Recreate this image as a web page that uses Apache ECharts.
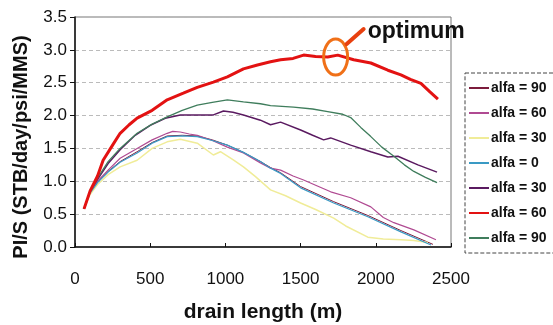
<!DOCTYPE html>
<html><head><meta charset="utf-8">
<script src="https://cdn.jsdelivr.net/npm/echarts@6/dist/echarts.min.js"></script>
<style>html,body{margin:0;padding:0;background:#fff}#c{width:553px;height:325px}</style>
</head><body><div id="c"></div>
<script>
const seriesNames = ['alfa = 90#1','alfa = 60#1','alfa = 30#1','alfa = 0','alfa = 30#2','alfa = 60#2','alfa = 90#2'];
const xTicks = [0, 500, 1000, 1500, 2000, 2500];
const yTicks = [0, 0.5, 1.0, 1.5, 2.0, 2.5, 3.0, 3.5];

const alfa90a = [[60,0.58],[100,0.83],[150,0.99],[220,1.15],[300,1.30],[413,1.45],[513,1.59],[613,1.69],[713,1.70],[813,1.69],[913,1.63],[1013,1.55],[1120,1.44],[1233,1.30],[1300,1.21],[1367,1.13],[1500,0.92],[1720,0.69],[1947,0.48],[2167,0.25],[2380,0.04]];
const alfa60a = [[60,0.58],[100,0.83],[150,1.00],[220,1.17],[300,1.35],[413,1.50],[513,1.63],[613,1.73],[650,1.76],[700,1.75],[760,1.72],[813,1.70],[913,1.62],[1013,1.52],[1120,1.43],[1233,1.28],[1300,1.20],[1367,1.17],[1450,1.08],[1520,1.02],[1600,0.94],[1700,0.84],[1833,0.75],[1967,0.61],[2050,0.45],[2120,0.37],[2253,0.26],[2400,0.11]];
const alfa30a = [[60,0.58],[100,0.80],[150,0.95],[220,1.10],[300,1.22],[413,1.32],[513,1.50],[613,1.60],[700,1.64],[813,1.58],[920,1.40],[967,1.45],[1050,1.33],[1120,1.22],[1200,1.07],[1300,0.87],[1400,0.78],[1500,0.67],[1600,0.57],[1720,0.44],[1800,0.32],[1947,0.15],[2050,0.12],[2167,0.11],[2253,0.10],[2347,0.07]];
const alfa0 = [[60,0.58],[100,0.82],[150,0.98],[220,1.14],[300,1.29],[413,1.43],[513,1.58],[613,1.68],[713,1.69],[813,1.68],[913,1.62],[1013,1.55],[1120,1.44],[1233,1.30],[1300,1.20],[1367,1.12],[1500,0.90],[1720,0.67],[1947,0.46],[2167,0.23],[2367,0.03]];
const alfa30b = [[60,0.58],[100,0.85],[150,1.03],[220,1.27],[300,1.48],[400,1.70],[500,1.85],[600,1.96],[700,2.01],[800,2.01],[920,2.01],[987,2.07],[1050,2.05],[1120,2.01],[1233,1.93],[1300,1.86],[1367,1.90],[1500,1.78],[1580,1.70],[1653,1.63],[1700,1.66],[1833,1.55],[1967,1.45],[2080,1.37],[2147,1.38],[2280,1.25],[2407,1.14]];
const alfa60b = [[60,0.58],[100,0.85],[150,1.08],[187,1.32],[250,1.55],[300,1.73],[360,1.86],[413,1.96],[513,2.08],[613,2.24],[720,2.34],[813,2.43],[920,2.51],[1013,2.59],[1120,2.71],[1213,2.77],[1300,2.82],[1367,2.85],[1450,2.87],[1520,2.92],[1600,2.90],[1680,2.89],[1747,2.92],[1853,2.85],[1967,2.80],[2080,2.69],[2167,2.62],[2230,2.55],[2300,2.49],[2360,2.36],[2413,2.25]];
const alfa90b = [[60,0.58],[100,0.85],[150,1.05],[220,1.30],[300,1.50],[413,1.73],[513,1.87],[613,1.98],[713,2.08],[813,2.16],[913,2.20],[1013,2.24],[1120,2.21],[1233,2.18],[1300,2.15],[1453,2.13],[1580,2.10],[1680,2.06],[1780,2.02],[1833,1.97],[1900,1.82],[1967,1.68],[2040,1.52],[2120,1.38],[2190,1.25],[2253,1.15],[2330,1.06],[2407,0.98]];

const optimumPoint = [1733, 2.89];
const annotationText = 'optimum';

const seriesData = [alfa90a, alfa60a, alfa30a, alfa0, alfa30b, alfa60b, alfa90b];
const colors = ['#7c1c3c','#b04a92','#f0ec98','#3a9ac4','#5a1a60','#e31212','#3f7d5c'];
const widths = [1, 1.2, 1.5, 1.2, 1.5, 3, 1.3];
const FONT = 'Liberation Sans, Arial, sans-serif';

const chart = echarts.init(document.getElementById('c'), null, {renderer:'canvas'});
chart.setOption({
  animation: false,
  grid: {left: 75, right: 102, top: 17, bottom: 78, show: true, borderColor: '#777', borderWidth: 1, outerBoundsMode: 'none', containLabel: false},
  legend: {
    orient: 'vertical', left: 465, top: 73,
    padding: [8, 12, 8, 3],
    itemGap: 11, itemWidth: 20, itemHeight: 14,
    borderColor: '#444', borderWidth: 1, borderType: 'dashed',
    data: seriesNames,
    itemStyle: {opacity: 0},
    formatter: n => n.split('#')[0],
    textStyle: {fontFamily: FONT, fontWeight: 'bold', fontSize: 14, color: '#111', lineHeight: 14, padding: [0,0,0,-3]}
  },
  xAxis: {
    type: 'value', min: xTicks[0], max: xTicks[xTicks.length-1], interval: 500,
    name: 'drain length (m)', nameLocation: 'middle', nameGap: 55,
    nameTextStyle: {fontFamily: FONT, fontWeight: 'bold', fontSize: 21, color: '#111'},
    axisLine: {lineStyle: {color: '#111', width: 1.5}},
    axisTick: {inside: true, length: 4, lineStyle: {color: '#111'}},
    axisLabel: {fontFamily: FONT, fontSize: 17, color: '#111', margin: 24, formatter: v => String(v)},
    splitLine: {show: false}
  },
  yAxis: {
    type: 'value', min: yTicks[0], max: yTicks[yTicks.length-1], interval: 0.5,
    name: 'PI/S (STB/day/psi/MMS)', nameLocation: 'middle', nameGap: 44, nameRotate: 90,
    nameTextStyle: {fontFamily: FONT, fontWeight: 'bold', fontSize: 20, color: '#111', padding:[0,0,0,-30]},
    axisLine: {show: true, lineStyle: {color: '#111', width: 1.5}},
    axisTick: {show: true, length: 5, lineStyle: {color: '#111'}},
    axisLabel: {fontFamily: FONT, fontSize: 17, color: '#111', margin: 8, formatter: v => v.toFixed(1)},
    splitLine: {show: true, lineStyle: {color: '#bbb', type: [4,3], width: 1}}
  },
  series: seriesNames.map((n, i) => ({
    name: n, type: 'line', data: seriesData[i], showSymbol: false, symbol: 'none',
    color: colors[i], lineStyle: {color: colors[i], width: widths[i]}, z: i === 5 ? 5 : 2
  }))
});

const c = chart.convertToPixel({gridIndex: 0}, optimumPoint);
chart.setOption({
  graphic: [
    {type: 'ellipse', shape: {cx: c[0], cy: c[1], rx: 12, ry: 18}, style: {fill: 'none', stroke: '#f07018', lineWidth: 3}, z: 100},
    {type: 'line', shape: {x1: c[0] + 11, y1: c[1] - 13, x2: c[0] + 28, y2: c[1] - 28}, style: {stroke: '#e8400f', lineWidth: 4, lineCap: 'round'}, z: 100},
    {type: 'text', x: c[0] + 32, y: c[1] - 25, style: {text: annotationText, font: 'bold 23px ' + FONT, fill: '#111', textVerticalAlign: 'middle'}, z: 100}
  ]
});
</script></body></html>
